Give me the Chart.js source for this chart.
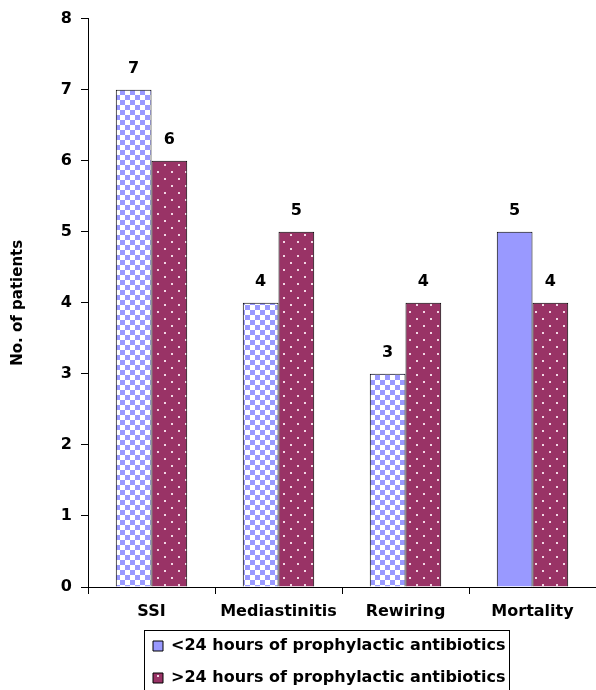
<!DOCTYPE html>
<html>
<head>
<meta charset="utf-8">
<script src="https://cdn.jsdelivr.net/npm/chart.js@4.4.1/dist/chart.umd.min.js"></script>
<style>
  html, body { margin: 0; padding: 0; background: #ffffff; }
  #wrap { width: 596px; height: 690px; }
</style>
</head>
<body>
<div id="wrap"><canvas id="c" width="596" height="690"></canvas></div>
<script>
const categories = ["SSI", "Mediastinitis", "Rewiring", "Mortality"];
const seriesNames = ["<24 hours of prophylactic antibiotics", ">24 hours of prophylactic antibiotics"];
const lessThan24 = [7, 4, 3, 5];
const moreThan24 = [6, 5, 4, 4];
const yTicks = [0, 1, 2, 3, 4, 5, 6, 7, 8];
const yTitle = "No. of patients";

const BLUE = "#9999FF";
const MAROON = "#993366";
const FONT = "'DejaVu Sans', 'Liberation Sans', Arial, sans-serif";

function checkerPattern() {
  const c = document.createElement("canvas");
  c.width = 10; c.height = 10;
  const g = c.getContext("2d");
  g.fillStyle = "#ffffff"; g.fillRect(0, 0, 10, 10);
  g.fillStyle = BLUE;
  g.fillRect(0, 0, 5, 5);
  g.fillRect(5, 5, 5, 5);
  return g.createPattern(c, "repeat");
}
function dotPattern() {
  const c = document.createElement("canvas");
  c.width = 14; c.height = 14;
  const g = c.getContext("2d");
  g.fillStyle = MAROON; g.fillRect(0, 0, 14, 14);
  g.fillStyle = "#f2d6e4";
  g.fillRect(3, 3, 2, 2);
  g.fillRect(10, 10, 2, 2);
  return g.createPattern(c, "repeat");
}
const checker = checkerPattern();
const dots = dotPattern();

const valueLabels = {
  id: "valueLabels",
  afterDatasetsDraw(chart) {
    const ctx = chart.ctx;
    ctx.save();
    ctx.font = "bold 16px " + FONT;
    ctx.fillStyle = "#000";
    ctx.textAlign = "center";
    ctx.textBaseline = "middle";
    chart.data.datasets.forEach((ds, di) => {
      const meta = chart.getDatasetMeta(di);
      meta.data.forEach((bar, i) => {
        ctx.fillText(String(ds.data[i]), bar.x, bar.y - 21);
      });
    });
    ctx.restore();
  }
};

const legendPlace = {
  id: "legendPlace",
  afterLayout(chart) {
    const lg = chart.legend;
    if (!lg || !lg.lineWidths) return;
    const pad = lg.options.labels.padding;
    const curX = (lg.left + pad + lg.right - lg.lineWidths[0]) / 2;
    const shift = 153 - curX;
    lg.left += shift;
    lg.right += shift;
  },
  afterDraw(chart) {
    const lg = chart.legend;
    if (!lg || !lg.legendHitBoxes || !lg.legendHitBoxes.length) return;
    const hb = lg.legendHitBoxes[0];
    let w = 0;
    lg.legendHitBoxes.forEach(h => { w = Math.max(w, h.width); });
    const ctx = chart.ctx;
    ctx.save();
    ctx.strokeStyle = "#000";
    ctx.lineWidth = 1;
    const x0 = Math.round(hb.left - 9) + 0.5;
    const y0 = Math.round(hb.top - 8) + 0.5;
    ctx.strokeRect(x0, y0, Math.round(w + 13), chart.height - y0 + 10);
    ctx.restore();
  }
};

new Chart(document.getElementById("c"), {
  type: "bar",
  data: {
    labels: categories,
    datasets: [
      {
        label: seriesNames[0],
        data: lessThan24,
        backgroundColor: (c) => (c.dataIndex === 3 ? BLUE : checker),
        borderColor: "#000",
        borderWidth: 1,
        inflateAmount: 0
      },
      {
        label: seriesNames[1],
        data: moreThan24,
        backgroundColor: dots,
        borderColor: "#000",
        borderWidth: 1,
        inflateAmount: 0
      }
    ]
  },
  options: {
    responsive: false,
    animation: false,
    devicePixelRatio: 1,
    categoryPercentage: 0.5625,
    barPercentage: 1.0,
    layout: { padding: { top: 18, right: -4, left: 0, bottom: -6 } },
    plugins: {
      tooltip: { enabled: false },
      legend: {
        position: "bottom",
        align: "center",
        labels: {
          color: "#000",
          font: { family: FONT, size: 16, weight: "bold" },
          boxWidth: 10,
          boxHeight: 10,
          padding: 16,
          generateLabels(chart) {
            const items = Chart.defaults.plugins.legend.labels.generateLabels(chart);
            items.forEach((it, i) => {
              it.fillStyle = i === 0 ? BLUE : dots;
              it.strokeStyle = "#000";
              it.lineWidth = 1;
            });
            return items;
          }
        }
      }
    },
    scales: {
      x: {
        offset: true,
        border: { display: true, color: "#000", width: 1 },
        grid: { offset: true, drawOnChartArea: false, drawTicks: true, tickLength: 7, color: "#000" },
        ticks: {
          color: "#000",
          padding: 8,
          font: { family: FONT, size: 16, weight: "bold" },
          maxRotation: 0
        },
        afterFit(axis) { axis.height = 35; }
      },
      y: {
        min: 0,
        max: 8,
        afterBuildTicks(axis) { axis.ticks = yTicks.map(v => ({ value: v })); },
        border: { display: true, color: "#000", width: 1 },
        grid: { drawOnChartArea: false, drawTicks: true, tickLength: 7, color: "#000" },
        ticks: {
          color: "#000",
          padding: 9,
          font: { family: FONT, size: 16, weight: "bold" }
        },
        title: {
          display: true,
          text: yTitle,
          color: "#000",
          font: { family: FONT, size: 15, weight: "bold" },
          padding: { top: 9, bottom: 0 }
        },
        afterFit(axis) { axis.width = 88; }
      }
    }
  },
  plugins: [valueLabels, legendPlace]
});
</script>
</body>
</html>
